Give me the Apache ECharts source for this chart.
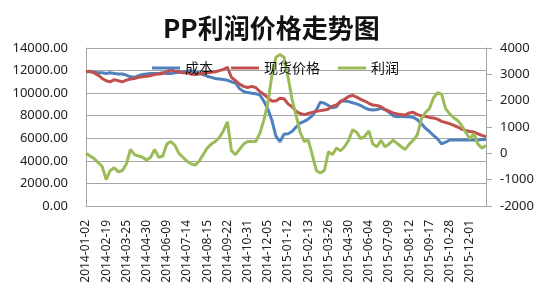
<!DOCTYPE html>
<html>
<head>
<meta charset="utf-8">
<script src="https://cdn.jsdelivr.net/npm/echarts@6/dist/echarts.min.js"></script>
<style>html,body{margin:0;padding:0;background:#fff}#c{width:550px;height:300px}</style>
</head>
<body>
<div id="c"></div>
<script>
const tickLabels = ['2014-01-02','2014-02-19','2014-03-25','2014-04-30','2014-06-09','2014-07-14','2014-08-15','2014-09-22','2014-10-31','2014-12-05','2015-01-12','2015-02-13','2015-03-26','2015-04-30','2015-06-04','2015-07-09','2015-08-12','2015-09-17','2015-10-28','2015-12-01'];
const pointsPerTick = 5;
const seriesNames = ['成本','现货价格','利润'];
const costValues = [11900,11900,11850,11800,11800,11750,11800,11750,11700,11700,11600,11450,11400,
11550,11650,11700,11750,11750,11750,11800,11750,11750,11800,11850,11900,11950,12000,11900,11800,11650,11500,11400,11300,11250,11200,11150,11000,10900,
10400,10150,10050,10000,9950,9850,9300,8600,7600,6200,5700,6350,6400,6600,7000,7350,7500,7700,8000,8500,9200,9100,8900,8700,8800,
9300,9300,9250,9150,9050,8900,8700,8550,8500,8550,8650,8550,8300,8000,7900,7950,7900,7900,7850,7650,7300,6900,6600,6250,5950,
5500,5650,5850,5850,5850,5850,5850,5850,5850,5850,5900,5900];
const spotValues = [11900,11950,11800,11600,11300,11100,11000,11200,11100,11000,11150,11250,11300,
11400,11450,11500,11550,11650,11700,11750,11900,12050,11950,11900,11800,11800,11700,11650,11700,11750,11800,11850,11900,12000,12100,12300,11400,11100,
10800,10600,10500,10600,10500,10150,9900,9600,9300,9300,9550,9500,9050,8800,8400,8200,8100,8200,8300,8400,8450,8500,8600,8850,8950,
9250,9450,9700,9800,9650,9450,9300,9100,8950,8900,8800,8550,8400,8250,8150,8100,8050,8250,8300,8100,8000,7950,7850,7800,7700,
7500,7400,7300,7150,7000,6800,6700,6600,6550,6400,6250,6150];
const profitValues = [0,-100,-200,-350,-500,-1000,-650,-550,-700,-650,-400,150,-50,-100,-150,-250,-150,150,-150,-100,
350,450,300,0,-150,-300,-400,-450,-300,-50,200,350,450,600,850,1200,100,-50,150,350,
450,450,450,750,1250,1900,2950,3650,3750,3650,2900,2050,1450,800,450,500,-50,-650,-750,-650,
60,-50,200,100,250,500,900,800,550,650,850,350,250,500,250,350,500,380,250,150,
350,500,700,1300,1550,1700,2100,2300,2250,1700,1500,1350,1250,1050,800,550,750,350,200,300];
const leftTicks = {min:0, max:14000, interval:2000};
const rightTicks = {min:-2000, max:4000, interval:1000};

const categories = costValues.map((_, i) => i % pointsPerTick === 0 && tickLabels[i / pointsPerTick] ? tickLabels[i / pointsPerTick] : '');

const chart = echarts.init(document.getElementById('c'), null, {renderer:'canvas'});
const gridColor = '#a6a6a6';
const labelColor = '#222';
chart.setOption({
  backgroundColor:'#fff',
  animation:false,
  title:{text:'PP利润价格走势图', left:158, top:10,
    textStyle:{fontFamily:'Noto Sans CJK SC', fontWeight:'bold', fontSize:26, color:'#111'}},
  legend:{left:147, top:56, icon:'rect', itemWidth:28, itemHeight:3, itemGap:18,
    data:seriesNames,
    textStyle:{fontFamily:'Noto Sans CJK SC', fontSize:14, color:'#111'}},
  grid:{left:86, right:64, top:48, bottom:94, containLabel:false},
  xAxis:{type:'category', data:categories, boundaryGap:false,
    axisLine:{lineStyle:{color:gridColor, width:1}},
    axisTick:{show:false},
    axisLabel:{interval:0, rotate:90, margin:14, fontSize:12, fontFamily:'Noto Sans', color:labelColor},
    splitLine:{show:false}},
  yAxis:[
    {type:'value', min:leftTicks.min, max:leftTicks.max, interval:leftTicks.interval,
      axisLine:{show:true, lineStyle:{color:gridColor}},
      axisTick:{show:false},
      axisLabel:{margin:18, fontSize:13, fontFamily:'Noto Sans', color:labelColor, formatter:v=>v.toFixed(2)},
      splitLine:{show:true, lineStyle:{color:gridColor, width:1}}},
    {type:'value', min:rightTicks.min, max:rightTicks.max, interval:rightTicks.interval, position:'right',
      axisLine:{show:true, lineStyle:{color:gridColor}},
      axisTick:{show:true, inside:false, length:6, lineStyle:{color:gridColor}},
      axisLabel:{margin:14, fontSize:13, fontFamily:'Noto Sans', color:labelColor, formatter:v=>String(v)},
      splitLine:{show:false}}
  ],
  series:[
    {name:seriesNames[0], type:'line', data:costValues, yAxisIndex:0, showSymbol:false, symbol:'none',
      lineStyle:{width:3, color:'#4F81BD'}, itemStyle:{color:'#4F81BD'}},
    {name:seriesNames[1], type:'line', data:spotValues, yAxisIndex:0, showSymbol:false, symbol:'none',
      lineStyle:{width:3, color:'#C0504D'}, itemStyle:{color:'#C0504D'}},
    {name:seriesNames[2], type:'line', data:profitValues, yAxisIndex:1, showSymbol:false, symbol:'none',
      lineStyle:{width:3, color:'#9BBB59'}, itemStyle:{color:'#9BBB59'}}
  ]
});
</script>
</body>
</html>
